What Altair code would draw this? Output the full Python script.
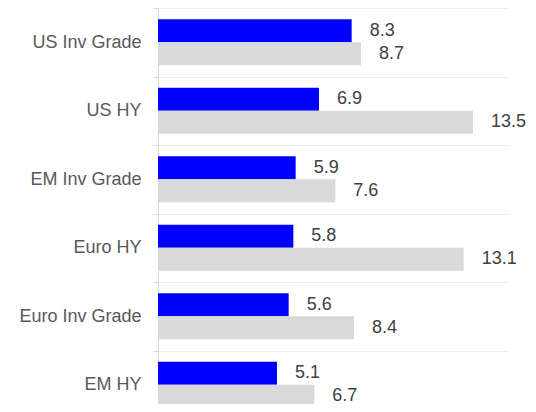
import altair as alt
import pandas as pd

categories = ["US Inv Grade", "US HY", "EM Inv Grade", "Euro HY", "Euro Inv Grade", "EM HY"]
blue_values = [8.3, 6.9, 5.9, 5.8, 5.6, 5.1]
gray_values = [8.7, 13.5, 7.6, 13.1, 8.4, 6.7]
series = ["Current", "Comparison"]
colors = ["#0000FF", "#D9D9D9"]

rows = []
for c, b, g in zip(categories, blue_values, gray_values):
    rows.append({"category": c, "series": series[0], "value": b})
    rows.append({"category": c, "series": series[1], "value": g})
df = pd.DataFrame(rows)

FONT = "Liberation Sans"

y = alt.Y(
    "category:N",
    sort=categories,
    scale=alt.Scale(paddingInner=0, paddingOuter=0, range=[0, 411]),
    axis=alt.Axis(
        title=None,
        tickBand="extent",
        grid=True,
        gridColor="#efefef",
        domainColor="#d9d9d9",
        tickColor="#d9d9d9",
        tickSize=5,
        labelPadding=12,
        labelFont=FONT,
        labelFontSize=18,
        labelColor="#595959",
    ),
)
yoff = alt.YOffset("series:N", sort=series, scale=alt.Scale(paddingOuter=0.49, paddingInner=0))
x = alt.X("value:Q", scale=alt.Scale(domain=[0, 15]), axis=None)

base = alt.Chart(df).encode(y=y, yOffset=yoff, x=x)

bars = base.mark_bar().encode(
    color=alt.Color("series:N", sort=series, scale=alt.Scale(domain=series, range=colors), legend=None)
)
labels = base.mark_text(align="left", baseline="middle", dx=18, fontSize=18, font=FONT, color="#404040").encode(
    text=alt.Text("value:Q", format=".1f")
)

chart = (
    (bars + labels)
    .properties(width=350, height=396, autosize=alt.AutoSizeParams(type="none"),
                padding={"left": 150, "top": 0, "right": 20, "bottom": 0})
    .configure_view(stroke=None)
)

chart.save("out.html", embed_options={"renderer": "svg", "actions": False})
